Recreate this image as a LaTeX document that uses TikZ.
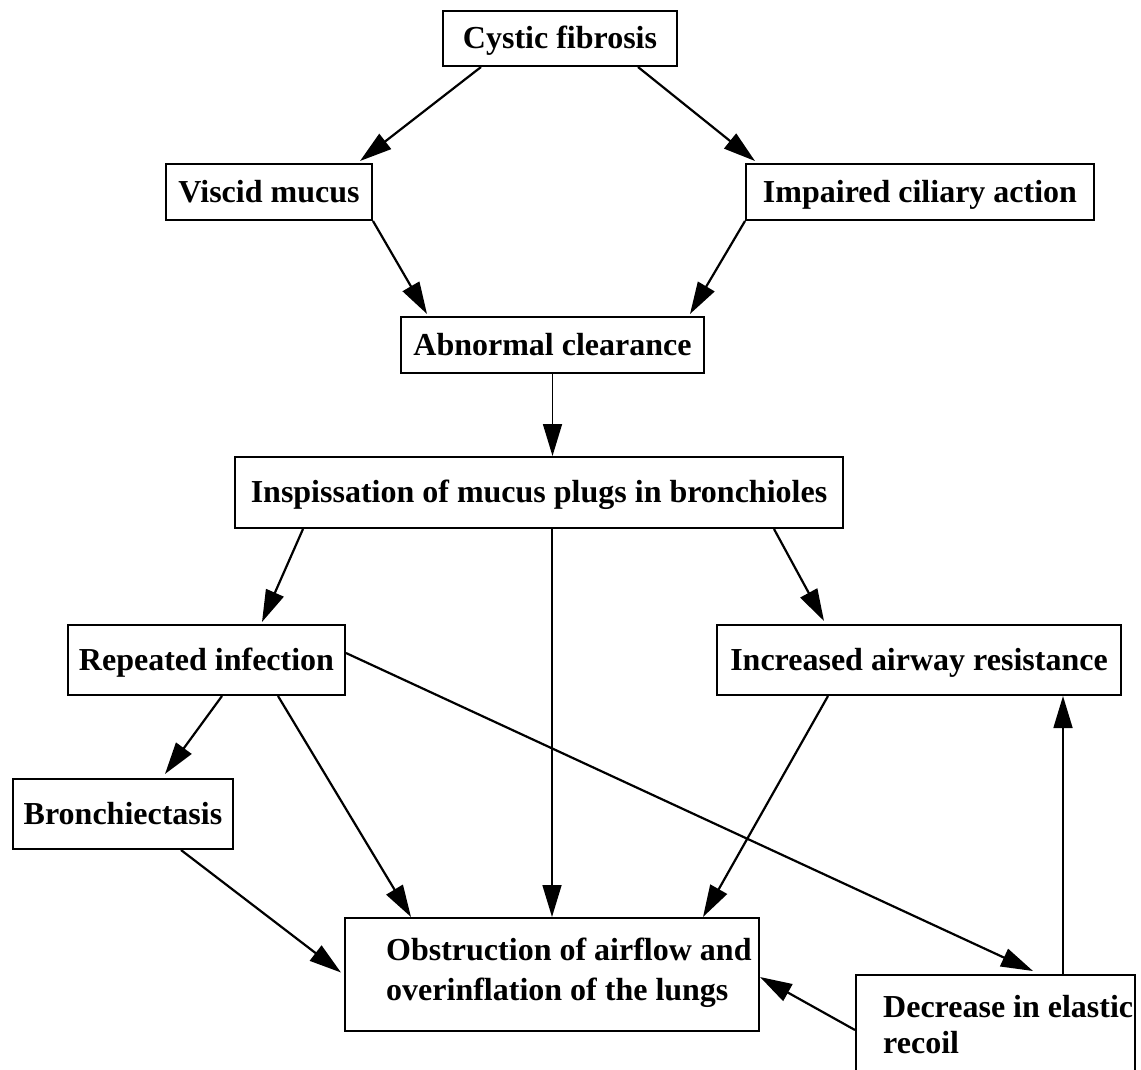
\documentclass[tikz,border=0pt]{standalone}
\usepackage{fontspec}
\setmainfont{Liberation Serif}
\usetikzlibrary{arrows.meta}
\begin{document}
\begin{tikzpicture}[x=1pt,y=-1pt,
  box/.style={draw, line width=2pt, inner sep=0pt, text height=25pt, text depth=5pt, font=\fontsize{32}{38}\selectfont\bfseries},
  txt/.style={inner sep=0pt, font=\fontsize{32}{38}\selectfont\bfseries},
  arr/.style={line width=2.2pt, -{Triangle[length=32pt,width=19pt]}},
  varr/.style={line width=1.6pt, -{Triangle[length=32pt,width=19pt]}}]
\useasboundingbox (0,0) rectangle (1141,1069);
% boxes
\node[box, minimum width=234pt, minimum height=55pt] (cf) at (560,38.5) {Cystic fibrosis};
\node[box, minimum width=206pt, minimum height=56pt] (vm) at (269,192) {Viscid mucus};
\node[box, minimum width=348pt, minimum height=56pt] (ica) at (920,192) {Impaired ciliary action};
\node[box, minimum width=303pt, minimum height=56pt] (ac) at (552.5,345) {Abnormal clearance};
\node[box, minimum width=608pt, minimum height=71pt] (insp) at (539,492.5) {Inspissation of mucus plugs in bronchioles};
\node[box, minimum width=277pt, minimum height=70pt] (ri) at (206.5,660) {Repeated infection};
\node[box, minimum width=404pt, minimum height=70pt] (iar) at (919,660) {Increased airway resistance};
\node[box, minimum width=220pt, minimum height=70pt] (bro) at (123,814) {Bronchiectasis};
\node[box, minimum width=414pt, minimum height=113pt] (obs) at (552,974.5) {};
\node[txt, anchor=base west] (obs1) at (386,960) {Obstruction of airflow and};
\node[txt, anchor=base west] (obs2) at (386,1000) {overinflation of the lungs};
\node[box, minimum width=279pt, minimum height=125pt] (dec) at (995.5,1037.5) {};
\node[txt, anchor=base west] (dec1) at (883,1017) {Decrease in elastic};
\node[txt, anchor=base west] (dec2) at (883,1053) {recoil};
% connectors
\draw[arr] ([xshift=-79pt]cf.south) -- ([xshift=91pt,yshift=2pt]vm.north);
\draw[arr] ([xshift=78pt]cf.south) -- ([xshift=-165pt,yshift=2pt]ica.north);
\draw[arr] (vm.south east) -- ([xshift=-125.5pt,yshift=2pt]ac.north);
\draw[arr] (ica.south west) -- ([xshift=137.5pt,yshift=2pt]ac.north);
\draw[varr] (ac.south) -- (ac.south |- insp.north);
\draw[arr] ([xshift=-236pt]insp.south) -- ([xshift=55.5pt,yshift=2pt]ri.north);
\draw[varr] (insp.south -| obs.north) -- (obs.north);
\draw[arr] ([xshift=235pt]insp.south) -- ([xshift=-95pt,yshift=3pt]iar.north);
\draw[arr] ([xshift=15.5pt]ri.south) -- ([xshift=42pt,yshift=4pt]bro.north);
\draw[arr] ([xshift=71.5pt]ri.south) -- ([xshift=-141pt]obs.north);
\draw[arr] ([yshift=7pt]ri.east) -- ([xshift=37.5pt,yshift=3pt]dec.north);
\draw[arr] ([xshift=58pt]bro.south) -- ([xshift=-3pt,yshift=2pt]obs.west);
\draw[arr] ([xshift=-91pt]iar.south) -- ([xshift=151pt]obs.north);
\draw[varr] ([xshift=67.5pt]dec.north) -- ([xshift=67.5pt]dec.north |- iar.south);
\draw[arr] ([yshift=7.5pt]dec.west) -- ([yshift=-2.5pt]obs.east);
\end{tikzpicture}
\end{document}
